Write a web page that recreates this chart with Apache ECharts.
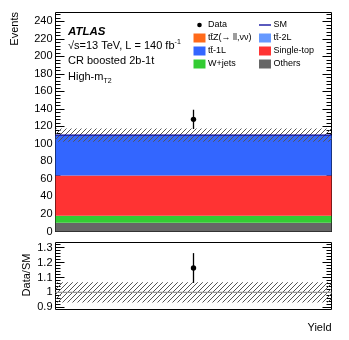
<!DOCTYPE html>
<html>
<head>
<meta charset="utf-8">
<script src="https://cdn.jsdelivr.net/npm/echarts@6/dist/echarts.min.js"></script>
<style>
  html, body { margin: 0; padding: 0; background: #fff; }
  #chart { width: 349px; height: 340px; }
</style>
</head>
<body>
<div id="chart"></div>
<script>
// one bin, stacked backgrounds (bottom -> top)
const categories = ['Yield'];
const bkgNames = ['Others', 'W+jets', 'Single-top', 'tt̄-1L', 'tt̄-2L', 'tt̄Z(→ ll,νν)'];
const bkgValues = [10, 8, 46, 45.5, 0.3, 0.2];
const bkgColors = ['#666666', '#33cc33', '#ff3333', '#3366ff', '#6699ff', '#ff6a1a'];
const smUnc = 7.5;
const dataValue = 128;
const dataErr = 11;

const mainTicks = [0, 20, 40, 60, 80, 100, 120, 140, 160, 180, 200, 220, 240];
const mainMinor = [];
for (let v = 0; v <= 248; v += 4) mainMinor.push(v);
const ratioTicks = [0.9, 1, 1.1, 1.2, 1.3];
const ratioMinor = [0.9, 0.92, 0.94, 0.96, 0.98, 1, 1.02, 1.04, 1.06, 1.08, 1.1,
  1.12, 1.14, 1.16, 1.18, 1.2, 1.22, 1.24, 1.26, 1.28, 1.3, 1.32];

const smTotal = bkgValues.reduce((a, b) => a + b, 0);
const ratio = dataValue / smTotal;
const ratioErr = dataErr / smTotal;
const ratioUnc = smUnc / smTotal;

const FONT = 'Liberation Sans';

function makeHatch(color) {
  const c = document.createElement('canvas');
  c.width = 5; c.height = 5;
  const g = c.getContext('2d');
  g.strokeStyle = color;
  g.lineWidth = 1;
  g.beginPath();
  g.moveTo(0, 5); g.lineTo(5, 0);
  g.moveTo(-1, 1); g.lineTo(1, -1);
  g.moveTo(4, 6); g.lineTo(6, 4);
  g.stroke();
  return c;
}
const hatch = { image: makeHatch('#555555'), repeat: 'repeat' };

function yAxes(grid, min, max, ticks, minor) {
  const base = {
    gridIndex: grid, type: 'value', min: min, max: max,
    axisLine: { show: false }, splitLine: { show: false }
  };
  const tickStyle = { color: '#000', width: 1 };
  return [
    Object.assign({}, base, {
      position: 'left',
      axisTick: { show: true, inside: true, length: 9, customValues: ticks, lineStyle: tickStyle },
      axisLabel: { customValues: ticks, fontFamily: FONT, fontSize: 11, color: '#000', margin: 3 }
    }),
    Object.assign({}, base, {
      position: 'left',
      axisTick: { show: true, inside: true, length: 5, customValues: minor, lineStyle: tickStyle },
      axisLabel: { show: false }
    }),
    Object.assign({}, base, {
      position: 'right',
      axisTick: { show: true, inside: true, length: 9, customValues: ticks, lineStyle: tickStyle },
      axisLabel: { show: false }
    }),
    Object.assign({}, base, {
      position: 'right',
      axisTick: { show: true, inside: true, length: 5, customValues: minor, lineStyle: tickStyle },
      axisLabel: { show: false }
    })
  ];
}

// data point with vertical error bar
function errRender(params, api) {
  const c = api.coord([api.value(0), api.value(1)]);
  const lo = api.coord([api.value(0), api.value(2)]);
  const hi = api.coord([api.value(0), api.value(3)]);
  return {
    type: 'group',
    children: [
      { type: 'line', shape: { x1: c[0], y1: lo[1], x2: c[0], y2: hi[1] },
        style: { stroke: '#000', lineWidth: 1.3 } },
      { type: 'circle', shape: { cx: c[0], cy: c[1], r: 2.7 }, style: { fill: '#000' } }
    ]
  };
}

// hatched uncertainty band across the bin + central line
function bandRender(lineColor) {
  return function (params, api) {
    const cs = params.coordSys;
    const mid = api.coord([api.value(0), api.value(1)]);
    const lo = api.coord([api.value(0), api.value(2)]);
    const hi = api.coord([api.value(0), api.value(3)]);
    return {
      type: 'group',
      children: [
        { type: 'rect', shape: { x: cs.x, y: hi[1], width: cs.width, height: lo[1] - hi[1] },
          style: { fill: hatch } },
        { type: 'line', shape: { x1: cs.x, y1: mid[1], x2: cs.x + cs.width, y2: mid[1] },
          style: { stroke: lineColor, lineWidth: 1.3 } }
      ]
    };
  };
}

const series = bkgNames.map((name, i) => ({
  name: name,
  type: 'bar',
  stack: 'bkg',
  xAxisIndex: 0,
  yAxisIndex: 0,
  barWidth: '100%',
  itemStyle: { color: bkgColors[i] },
  silent: true,
  data: [bkgValues[i]]
}));

series.push({
  name: 'SM', type: 'custom', xAxisIndex: 0, yAxisIndex: 0, z: 5, silent: true,
  renderItem: bandRender('#000099'),
  data: [[0, smTotal, smTotal - smUnc, smTotal + smUnc]]
});
series.push({
  name: 'Data', type: 'custom', xAxisIndex: 0, yAxisIndex: 0, z: 10,
  renderItem: errRender,
  data: [[0, dataValue, dataValue - dataErr, dataValue + dataErr]]
});
series.push({
  name: 'SM ratio', type: 'custom', xAxisIndex: 1, yAxisIndex: 4, z: 5, silent: true,
  renderItem: bandRender('#999999'),
  data: [[0, 1, 1 - ratioUnc, 1 + ratioUnc]]
});
series.push({
  name: 'Data/SM', type: 'custom', xAxisIndex: 1, yAxisIndex: 4, z: 10,
  renderItem: errRender,
  data: [[0, ratio, ratio - ratioErr, ratio + ratioErr]]
});

// legend, two columns
const legendRows = [25, 38, 51, 64];
const col1 = 193.5, col2 = 259;
const legendItems = [
  { name: 'Data', col: col1, row: 0, kind: 'dot' },
  { name: 'SM', col: col2, row: 0, kind: 'line' },
  { name: bkgNames[5], col: col1, row: 1, color: bkgColors[5] },
  { name: bkgNames[4], col: col2, row: 1, color: bkgColors[4] },
  { name: bkgNames[3], col: col1, row: 2, color: bkgColors[3] },
  { name: bkgNames[2], col: col2, row: 2, color: bkgColors[2] },
  { name: bkgNames[1], col: col1, row: 3, color: bkgColors[1] },
  { name: bkgNames[0], col: col2, row: 3, color: bkgColors[0] }
];
const graphics = [];
legendItems.forEach(it => {
  const y = legendRows[it.row];
  if (it.kind === 'dot') {
    graphics.push({ type: 'circle', shape: { cx: it.col + 6, cy: y, r: 2.3 }, style: { fill: '#000' } });
  } else if (it.kind === 'line') {
    graphics.push({ type: 'line', shape: { x1: it.col, y1: y, x2: it.col + 12, y2: y },
      style: { stroke: '#000099', lineWidth: 1.3 } });
  } else {
    graphics.push({ type: 'rect', shape: { x: it.col, y: y - 4.5, width: 12, height: 9 },
      style: { fill: it.color } });
  }
  graphics.push({ type: 'text', x: it.col + 14.5, y: y,
    style: { text: it.name, font: '9px "' + FONT + '"', fill: '#000', verticalAlign: 'middle' } });
});

// labels
graphics.push(
  { type: 'text', x: 68, y: 31.5,
    style: { text: 'ATLAS', font: 'italic bold 11.5px "' + FONT + '"', fill: '#000', verticalAlign: 'middle' } },
  { type: 'text', x: 68, y: 46,
    style: { text: '√s=13 TeV, L = 140 fb{sup|-1}', font: '11px "' + FONT + '"', fill: '#000', verticalAlign: 'middle',
      rich: { sup: { fontSize: 7, fontFamily: FONT, padding: [0, 0, 7, 0] } } } },
  { type: 'text', x: 68, y: 61,
    style: { text: 'CR boosted 2b-1t', font: '11px "' + FONT + '"', fill: '#000', verticalAlign: 'middle' } },
  { type: 'text', x: 68, y: 77,
    style: { text: 'High-m', font: '11px "' + FONT + '"', fill: '#000', verticalAlign: 'middle' } },
  { type: 'text', x: 103.5, y: 81,
    style: { text: 'T2', font: '7px "' + FONT + '"', fill: '#000', verticalAlign: 'middle' } },
  { type: 'text', x: 15, y: 12, rotation: Math.PI / 2,
    style: { text: 'Events', font: '11px "' + FONT + '"', fill: '#000', align: 'right', verticalAlign: 'middle' } },
  { type: 'text', x: 27, y: 275, rotation: Math.PI / 2,
    style: { text: 'Data/SM', font: '11px "' + FONT + '"', fill: '#000', align: 'center', verticalAlign: 'middle' } }
);

const chart = echarts.init(document.getElementById('chart'), null, { renderer: 'canvas' });
chart.setOption({
  animation: false,
  backgroundColor: '#fff',
  grid: [
    { left: 55.5, top: 12.5, width: 276, height: 219, show: true, borderColor: '#000', borderWidth: 1 },
    { left: 55.5, top: 242.5, width: 276, height: 67, show: true, borderColor: '#000', borderWidth: 1 }
  ],
  xAxis: [
    { gridIndex: 0, type: 'category', data: categories, position: 'bottom',
      axisLine: { show: false }, axisTick: { show: false }, axisLabel: { show: false } },
    { gridIndex: 1, type: 'category', data: categories, position: 'bottom',
      axisLine: { show: false }, axisTick: { show: false }, axisLabel: { show: false },
      name: 'Yield', nameLocation: 'end', nameGap: 0,
      nameTextStyle: { fontFamily: FONT, fontSize: 11, color: '#000', align: 'right',
        verticalAlign: 'top', padding: [13, 0, 0, 0] } }
  ],
  yAxis: yAxes(0, 0, 250, mainTicks, mainMinor).concat(yAxes(1, 0.885, 1.335, ratioTicks, ratioMinor)),
  series: series,
  graphic: graphics
});
</script>
</body>
</html>
